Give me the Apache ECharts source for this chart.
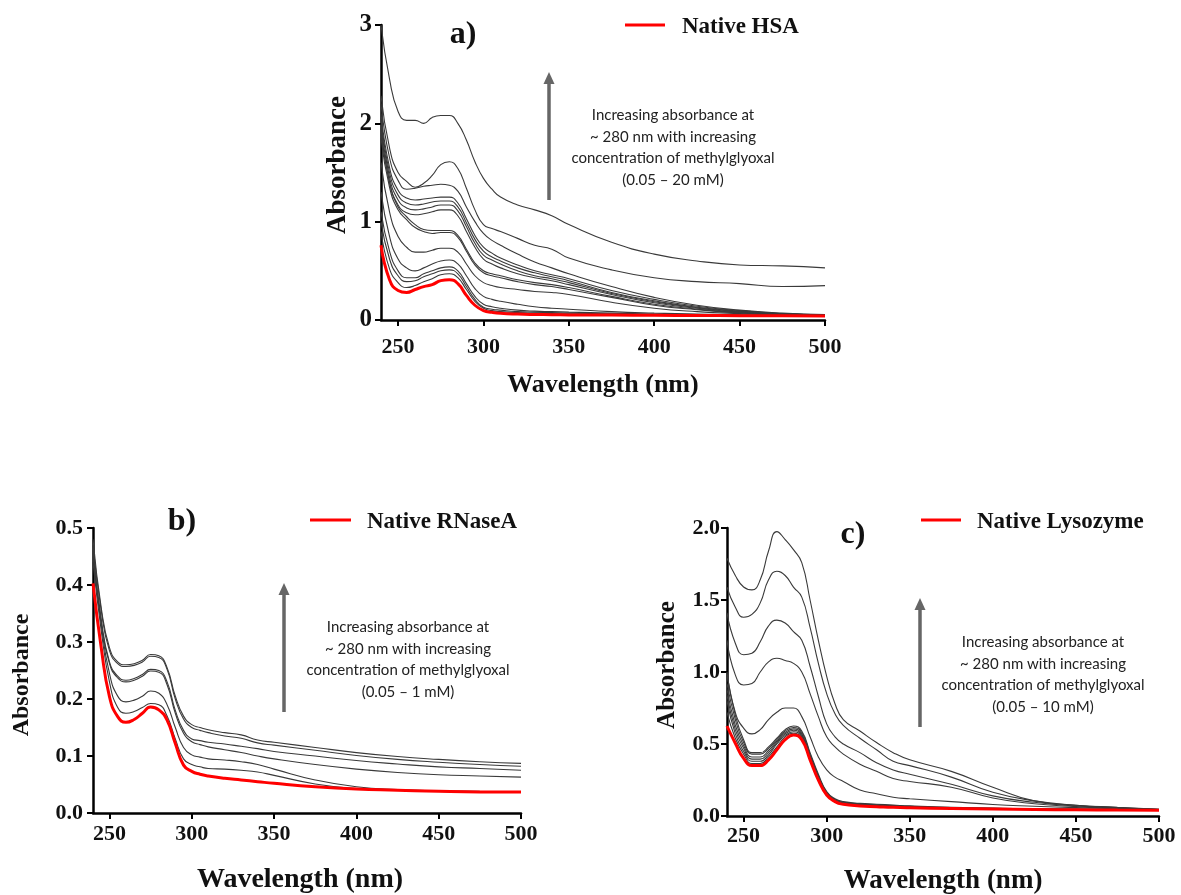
<!DOCTYPE html>
<html>
<head>
<meta charset="utf-8">
<script src="https://cdn.jsdelivr.net/npm/echarts@6/dist/echarts.min.js"></script>
<style>
html,body{margin:0;padding:0;background:#fff;}
#main{width:1181px;height:895px;}
</style>
</head>
<body>
<div id="main"></div>
<script>
// ---------- shared wavelength grid (nm) ----------
const wavelengths = [240,245,250,255,260,265,270,275,280,285,290,295,300,305,310,320,330,340,350,375,400,425,450,475,500];
const xTickValues = [250,300,350,400,450,500];

// ---------- panel a) HSA ----------
const hsaNative = [0.76,0.41,0.30,0.28,0.31,0.34,0.36,0.40,0.41,0.37,0.25,0.15,0.095,0.078,0.068,0.06,0.056,0.054,0.052,0.05,0.048,0.046,0.044,0.042,0.04];
const hsaGlycated = [
  [0.9,0.52,0.38,0.33,0.35,0.39,0.42,0.46,0.47,0.43,0.31,0.19,0.12,0.095,0.085,0.075,0.07,0.065,0.06,0.056,0.052,0.048,0.045,0.043,0.041],
  [1.0,0.62,0.45,0.39,0.40,0.44,0.47,0.50,0.51,0.47,0.34,0.21,0.13,0.11,0.10,0.085,0.08,0.075,0.07,0.062,0.056,0.052,0.048,0.045,0.042],
  [1.1,0.7,0.5,0.43,0.43,0.47,0.5,0.53,0.54,0.5,0.37,0.24,0.16,0.135,0.12,0.10,0.09,0.085,0.08,0.07,0.06,0.055,0.05,0.046,0.043],
  [1.3,0.85,0.62,0.53,0.50,0.53,0.57,0.60,0.61,0.57,0.45,0.32,0.24,0.21,0.19,0.16,0.135,0.12,0.11,0.085,0.07,0.06,0.052,0.047,0.043],
  [1.6,1.1,0.85,0.74,0.69,0.69,0.71,0.73,0.73,0.69,0.57,0.45,0.38,0.35,0.33,0.31,0.29,0.28,0.26,0.18,0.12,0.085,0.065,0.052,0.045],
  [1.85,1.35,1.12,1.02,0.94,0.9,0.88,0.89,0.89,0.84,0.70,0.56,0.48,0.45,0.43,0.39,0.36,0.34,0.31,0.23,0.15,0.105,0.072,0.056,0.046],
  [1.9,1.4,1.15,1.05,0.97,0.92,0.91,0.91,0.91,0.86,0.72,0.58,0.50,0.47,0.45,0.41,0.38,0.36,0.33,0.24,0.16,0.11,0.075,0.058,0.047],
  [1.95,1.4,1.17,1.09,1.07,1.08,1.1,1.12,1.12,1.06,0.9,0.74,0.62,0.57,0.53,0.47,0.43,0.40,0.36,0.26,0.175,0.12,0.08,0.06,0.048],
  [2.0,1.45,1.22,1.14,1.12,1.13,1.15,1.17,1.17,1.11,0.95,0.78,0.66,0.61,0.57,0.50,0.45,0.42,0.38,0.27,0.185,0.125,0.085,0.062,0.05],
  [2.05,1.5,1.27,1.19,1.17,1.18,1.2,1.21,1.21,1.15,0.99,0.82,0.70,0.64,0.60,0.53,0.48,0.44,0.40,0.28,0.195,0.13,0.09,0.065,0.05],
  [2.1,1.55,1.32,1.24,1.22,1.23,1.24,1.25,1.25,1.19,1.03,0.86,0.74,0.68,0.63,0.56,0.50,0.46,0.42,0.30,0.21,0.14,0.095,0.065,0.05],
  [2.2,1.65,1.42,1.33,1.34,1.36,1.37,1.38,1.37,1.31,1.15,1.0,0.88,0.81,0.76,0.67,0.59,0.53,0.47,0.34,0.23,0.15,0.10,0.07,0.055],
  [2.28,1.75,1.5,1.41,1.35,1.39,1.47,1.58,1.61,1.54,1.34,1.12,0.97,0.93,0.90,0.83,0.76,0.72,0.63,0.51,0.43,0.39,0.37,0.34,0.35],
  [3.0,2.45,2.12,2.03,2.03,2.0,2.06,2.08,2.08,2.0,1.83,1.61,1.44,1.33,1.25,1.17,1.12,1.06,0.97,0.79,0.67,0.60,0.56,0.55,0.53]
];
const hsaYTicks = [0,1,2,3];

// ---------- panel b) RNaseA ----------
const rnaseNative = [0.403,0.29,0.204,0.169,0.159,0.164,0.175,0.186,0.181,0.163,0.122,0.084,0.073,0.068,0.065,0.061,0.058,0.055,0.052,0.046,0.042,0.04,0.038,0.037,0.037];
const rnaseGlycated = [
  [0.44,0.32,0.23,0.185,0.175,0.178,0.185,0.192,0.19,0.17,0.13,0.095,0.085,0.081,0.078,0.077,0.075,0.072,0.066,0.051,0.043,0.04,0.038,0.037,0.036],
  [0.45,0.33,0.245,0.205,0.195,0.198,0.205,0.214,0.21,0.19,0.15,0.115,0.102,0.098,0.095,0.093,0.09,0.085,0.077,0.058,0.046,0.041,0.039,0.038,0.037],
  [0.46,0.335,0.262,0.237,0.23,0.233,0.24,0.249,0.247,0.225,0.175,0.14,0.125,0.12,0.116,0.111,0.106,0.1,0.095,0.085,0.077,0.071,0.067,0.065,0.063],
  [0.46,0.34,0.265,0.24,0.233,0.236,0.243,0.252,0.25,0.23,0.18,0.145,0.13,0.127,0.124,0.121,0.117,0.113,0.108,0.1,0.092,0.086,0.081,0.078,0.075],
  [0.47,0.355,0.285,0.262,0.257,0.259,0.265,0.275,0.273,0.252,0.2,0.165,0.15,0.145,0.141,0.135,0.131,0.123,0.119,0.11,0.101,0.094,0.089,0.085,0.082],
  [0.48,0.36,0.29,0.265,0.26,0.262,0.268,0.278,0.276,0.255,0.205,0.17,0.155,0.15,0.146,0.141,0.137,0.128,0.124,0.115,0.106,0.099,0.094,0.09,0.087]
];
const rnaseYTicks = [0,0.1,0.2,0.3,0.4,0.5];

// ---------- panel c) Lysozyme ----------
const lysoNative = [0.625,0.505,0.40,0.35,0.35,0.39,0.46,0.53,0.5625,0.53,0.39,0.25,0.146,0.1,0.081,0.07,0.065,0.06,0.057,0.052,0.048,0.045,0.043,0.041,0.04];
const lysoGlycated = [
  [0.72,0.54,0.43,0.365,0.365,0.41,0.48,0.55,0.575,0.54,0.395,0.255,0.148,0.102,0.085,0.075,0.068,0.063,0.058,0.052,0.048,0.045,0.043,0.041,0.04],
  [0.8,0.57,0.45,0.38,0.38,0.425,0.50,0.56,0.585,0.55,0.40,0.26,0.15,0.105,0.087,0.077,0.07,0.065,0.06,0.053,0.049,0.046,0.044,0.042,0.041],
  [0.84,0.6,0.47,0.395,0.395,0.44,0.51,0.57,0.595,0.56,0.41,0.27,0.155,0.108,0.09,0.08,0.073,0.068,0.063,0.055,0.05,0.047,0.045,0.043,0.042],
  [0.88,0.63,0.49,0.41,0.41,0.455,0.52,0.58,0.605,0.57,0.42,0.275,0.16,0.11,0.092,0.082,0.075,0.07,0.065,0.056,0.051,0.048,0.046,0.044,0.043],
  [0.92,0.67,0.51,0.43,0.43,0.47,0.53,0.59,0.615,0.58,0.43,0.28,0.165,0.115,0.095,0.085,0.078,0.072,0.067,0.058,0.053,0.049,0.047,0.045,0.044],
  [0.98,0.70,0.53,0.44,0.44,0.48,0.54,0.60,0.625,0.59,0.44,0.29,0.17,0.12,0.1,0.088,0.082,0.076,0.07,0.06,0.055,0.05,0.048,0.046,0.045],
  [1.0,0.72,0.61,0.57,0.60,0.67,0.72,0.75,0.75,0.69,0.55,0.41,0.32,0.27,0.24,0.18,0.155,0.13,0.12,0.1,0.08,0.068,0.058,0.05,0.045],
  [1.22,0.98,0.91,0.92,1.0,1.07,1.095,1.08,1.06,1.0,0.85,0.69,0.55,0.48,0.43,0.36,0.31,0.26,0.24,0.2,0.125,0.085,0.065,0.054,0.045],
  [1.41,1.2,1.12,1.13,1.21,1.32,1.36,1.34,1.28,1.22,1.04,0.83,0.64,0.55,0.5,0.44,0.37,0.32,0.29,0.22,0.14,0.095,0.07,0.056,0.045],
  [1.59,1.45,1.38,1.40,1.48,1.64,1.70,1.67,1.59,1.52,1.31,1.06,0.85,0.71,0.63,0.54,0.46,0.38,0.35,0.27,0.165,0.105,0.075,0.058,0.046],
  [1.79,1.67,1.59,1.57,1.64,1.84,1.975,1.92,1.85,1.76,1.5,1.22,0.97,0.78,0.67,0.59,0.51,0.44,0.39,0.31,0.2,0.105,0.075,0.06,0.046]
];
const lysoYTicks = [0,0.5,1.0,1.5,2.0];

// ---------- texts ----------
const panelLabels = ['a)','b)','c)'];
const legendNames = ['Native HSA','Native RNaseA','Native Lysozyme'];
const noteLines = [
  ['Increasing absorbance at','~ 280 nm with increasing','concentration of methylglyoxal','(0.05 \u2013 20 mM)'],
  ['Increasing absorbance at','~ 280 nm with increasing','concentration of methylglyoxal','(0.05 \u2013 1 mM)'],
  ['Increasing absorbance at','~ 280 nm with increasing','concentration of methylglyoxal','(0.05 \u2013 10 mM)']
];
const xTitle = 'Wavelength (nm)';
const yTitle = 'Absorbance';

// ---------- build ----------
const SERIF = '"Liberation Serif","DejaVu Serif",serif';
const SANS = 'Lato,"Open Sans","Noto Sans",sans-serif';
const zip = arr => wavelengths.map((w,i)=>[w,arr[i]]);

const panels = [
  {grid:{left:381,top:25,width:444,height:295}, max:3, ticks:hsaYTicks, fmt:v=>String(v), native:hsaNative, glyc:hsaGlycated, ylMargin:9, xlMargin:16, yfs:25},
  {grid:{left:93,top:528,width:428,height:285}, max:0.5, ticks:rnaseYTicks, fmt:v=>v.toFixed(1), native:rnaseNative, glyc:rnaseGlycated, ylMargin:10, xlMargin:10, yfs:22},
  {grid:{left:727,top:528,width:432,height:288}, max:2.0, ticks:lysoYTicks, fmt:v=>v.toFixed(1), native:lysoNative, glyc:lysoGlycated, ylMargin:7, xlMargin:9, yfs:22}
];

const grids=[], xAxes=[], yAxes=[], series=[];
panels.forEach((p,i)=>{
  grids.push(Object.assign({containLabel:false}, p.grid));
  xAxes.push({
    type:'value', gridIndex:i, min:240, max:500,
    axisLine:{show:true,onZero:false,lineStyle:{color:'#000',width:2.5}},
    axisTick:{show:true,length:6,inside:false,customValues:xTickValues,lineStyle:{color:'#000',width:2}},
    axisLabel:{customValues:xTickValues,margin:p.xlMargin,color:'#111',fontFamily:SERIF,fontWeight:'bold',fontSize:22},
    splitLine:{show:false}
  });
  yAxes.push({
    type:'value', gridIndex:i, min:0, max:p.max,
    axisLine:{show:true,onZero:false,lineStyle:{color:'#000',width:2.5}},
    axisTick:{show:true,length:6,inside:false,customValues:p.ticks,lineStyle:{color:'#000',width:2}},
    axisLabel:{customValues:p.ticks,margin:p.ylMargin,formatter:p.fmt,color:'#111',fontFamily:SERIF,fontWeight:'bold',fontSize:p.yfs},
    splitLine:{show:false}
  });
  p.glyc.forEach((arr,k)=>{
    series.push({type:'line',xAxisIndex:i,yAxisIndex:i,data:zip(arr),showSymbol:false,smooth:0.5,
      lineStyle:{color:'#3a3a3a',width:1.1},z:2,silent:true});
  });
  series.push({type:'line',xAxisIndex:i,yAxisIndex:i,data:zip(p.native),showSymbol:false,smooth:0.5,
    lineStyle:{color:'#ff0000',width:3},z:3,silent:true});
});

// graphic elements
const graphic=[];
function txt(x,y,text,font,opts){ graphic.push(Object.assign({type:'text',x:x,y:y,style:Object.assign({text:text,font:font,fill:'#111',align:'center',verticalAlign:'middle'},opts||{})})); }
function arrow(x,yTop,yBot){
  graphic.push({type:'line',shape:{x1:x,y1:yBot,x2:x,y2:yTop+10},style:{stroke:'#666',lineWidth:3.5}});
  graphic.push({type:'polygon',shape:{points:[[x,yTop],[x-5.5,yTop+12],[x+5.5,yTop+12]]},style:{fill:'#666'}});
}
function legend(x1,x2,y,tx,name){
  graphic.push({type:'line',shape:{x1:x1,y1:y,x2:x2,y2:y},style:{stroke:'#ff0000',lineWidth:3}});
  graphic.push({type:'text',x:tx,y:y+2,style:{text:name,font:'bold 23px '+SERIF,fill:'#111',align:'left',verticalAlign:'middle'}});
}
// panel labels
txt(463,35,panelLabels[0],'bold 32px '+SERIF);
txt(182,522,panelLabels[1],'bold 32px '+SERIF);
txt(853,535,panelLabels[2],'bold 32px '+SERIF);
// legends
legend(625,665,25,682,legendNames[0]);
legend(310,351,520,367,legendNames[1]);
legend(921,961,520,977,legendNames[2]);
// arrows
arrow(549,72,200);
arrow(284,583,712);
arrow(920,598,727);
// notes
const noteCenters=[[673,115],[408,627],[1043,642]];
noteCenters.forEach((c,i)=>{
  noteLines[i].forEach((l,j)=>txt(c[0],c[1]+j*21.7,l,'15px '+SANS,{fill:'#222'}));
});
// axis titles
txt(603,385,xTitle,'bold 26px '+SERIF);
txt(300,880,xTitle,'bold 28px '+SERIF);
txt(943,881,xTitle,'bold 27px '+SERIF);
graphic.push({type:'text',x:338,y:165,rotation:Math.PI/2,style:{text:yTitle,font:'bold 27px '+SERIF,fill:'#111',align:'center',verticalAlign:'middle'}});
graphic.push({type:'text',x:22,y:675,rotation:Math.PI/2,style:{text:yTitle,font:'bold 24px '+SERIF,fill:'#111',align:'center',verticalAlign:'middle'}});
graphic.push({type:'text',x:668,y:665,rotation:Math.PI/2,style:{text:yTitle,font:'bold 25px '+SERIF,fill:'#111',align:'center',verticalAlign:'middle'}});

const chart = echarts.init(document.getElementById('main'),null,{renderer:'canvas'});
chart.setOption({animation:false,backgroundColor:'#fff',grid:grids,xAxis:xAxes,yAxis:yAxes,series:series,graphic:graphic});
</script>
</body>
</html>
